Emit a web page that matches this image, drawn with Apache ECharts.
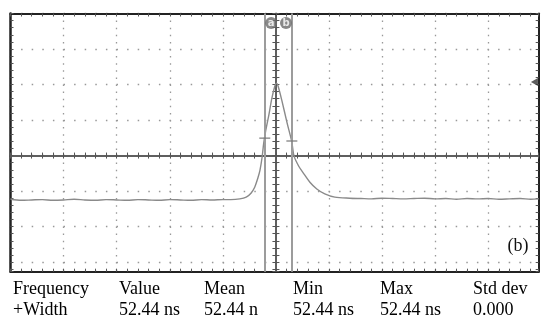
<!DOCTYPE html>
<html>
<head>
<meta charset="utf-8">
<script src="https://cdn.jsdelivr.net/npm/echarts@6/dist/echarts.min.js"></script>
<style>
html,body{margin:0;padding:0;background:#fff;}
#chart{width:542px;height:318px;}
</style>
</head>
<body>
<div id="chart"></div>
<script>
// ---- Data (screen divisions; 0 = centre of the graticule) ----
const waveX = [-5.0,-4.8,-4.6,-4.4,-4.2,-4.0,-3.8,-3.6,-3.4,-3.2,-3.0,-2.8,-2.6,-2.4,-2.2,-2.0,-1.8,-1.6,-1.4,-1.2,-1.0,
  -0.85,-0.68,-0.56,-0.47,-0.40,-0.34,-0.30,-0.26,-0.23,-0.19,-0.13,-0.08,-0.02,
  0.01,0.04,0.11,0.21,0.30,0.34,0.43,0.53,0.64,0.77,0.92,1.11,1.39,
  1.6,1.8,2.0,2.2,2.4,2.6,2.8,3.0,3.2,3.4,3.6,3.8,4.0,4.2,4.4,4.6,4.8,4.95];
const waveY = [-1.23,-1.26,-1.25,-1.24,-1.26,-1.25,-1.23,-1.25,-1.26,-1.24,-1.25,-1.26,-1.24,-1.25,-1.26,-1.24,-1.25,-1.26,-1.24,-1.25,-1.24,
  -1.24,-1.22,-1.17,-1.06,-0.89,-0.63,-0.41,-0.04,0.35,0.72,1.17,1.59,1.96,
  2.04,1.96,1.56,0.92,0.38,-0.01,-0.30,-0.52,-0.75,-0.94,-1.08,-1.17,-1.20,
  -1.21,-1.22,-1.20,-1.21,-1.22,-1.21,-1.20,-1.22,-1.21,-1.23,-1.21,-1.22,-1.21,-1.23,-1.22,-1.21,-1.23,-1.22];
const cursorX = [-0.21, 0.30];
const cursorNames = ['a', 'b'];
const cursorLabelX = [-0.09, 0.19];
const cursorLabelY = 3.73;
const cursorMarkY = [0.49, 0.41];
const triggerLevel = 2.07;
const panelLabel = '(b)';
const tableHeaders = ['Frequency', 'Value', 'Mean', 'Min', 'Max', 'Std dev'];
const tableValues = ['+Width', '52.44 ns', '52.44 n', '52.44 ns', '52.44 ns', '0.000'];

// ---- Layout ----
const X_MIN = -5, X_MAX = 4.95;
const DIV_UP = 4, DIV_DOWN = 3.27;
const colX = [13, 119, 204, 293, 380, 473];
const FONT = '18px "Liberation Serif", "Times New Roman", serif';

const chart = echarts.init(document.getElementById('chart'), null, {renderer: 'canvas'});

const borderLine = {color: '#222', width: 2};
const tickStyle = {color: '#555', width: 1};
const centreLine = {color: '#555', width: 1.5};

function xAx(extra) {
  return Object.assign({
    type: 'value', min: X_MIN, max: X_MAX, interval: 1,
    axisLabel: {show: false},
    splitLine: {show: false},
    axisTick: {show: true, inside: true, length: 3, lineStyle: tickStyle},
    minorTick: {show: true, splitNumber: 5, length: 3, lineStyle: tickStyle}
  }, extra);
}
function yAx(extra) {
  return Object.assign({
    type: 'value', inverse: true, min: 0, max: DIV_UP + DIV_DOWN, interval: 1,
    axisLabel: {show: false},
    splitLine: {show: false},
    axisTick: {show: true, inside: true, length: 3, lineStyle: tickStyle},
    minorTick: {show: true, splitNumber: 5, length: 3, lineStyle: tickStyle}
  }, extra);
}

const waveData = waveX.map((x, i) => [x, waveY[i]]);

const graphics = [{
  type: 'text', x: 518, y: 246,
  style: {text: panelLabel, font: FONT, fill: '#111', align: 'center', verticalAlign: 'middle'}, z: 10
}];
tableHeaders.forEach((t, i) => graphics.push({
  type: 'text', x: colX[i], y: 289,
  style: {text: t, font: FONT, fill: '#000', align: 'left', verticalAlign: 'middle'}, z: 10
}));
tableValues.forEach((t, i) => graphics.push({
  type: 'text', x: colX[i], y: 310,
  style: {text: t, font: FONT, fill: '#000', align: 'left', verticalAlign: 'middle'}, z: 10
}));

chart.setOption({
  animation: false,
  backgroundColor: '#fff',
  grid: {left: 10.5, right: 3.3, top: 13.5, bottom: 46.3, containLabel: false},
  xAxis: [
    xAx({position: 'bottom', axisLine: {onZero: false, lineStyle: borderLine},
      splitLine: {show: true, lineStyle: {color: '#999', width: 1.3, type: [1.5, 5.6]}}}),
    xAx({position: 'top', axisLine: {onZero: false, lineStyle: borderLine}}),
    xAx({position: 'bottom', axisLine: {onZero: true, onZeroAxisIndex: 4, lineStyle: centreLine},
      axisTick: {show: true, inside: true, length: 3, lineStyle: tickStyle},
      minorTick: {show: true, splitNumber: 5, length: 3, lineStyle: tickStyle}}),
    xAx({position: 'bottom', axisLine: {onZero: true, onZeroAxisIndex: 4, lineStyle: centreLine},
      axisTick: {show: true, inside: false, length: 3, lineStyle: tickStyle},
      minorTick: {show: true, splitNumber: 5, length: 3, lineStyle: tickStyle}})
  ],
  yAxis: [
    yAx({position: 'left', axisLine: {onZero: false, lineStyle: {color: '#222', width: 2.5}},
      splitLine: {show: true, lineStyle: {color: '#999', width: 1.3, type: [1.5, 9.1]}}}),
    yAx({position: 'right', axisLine: {onZero: false, lineStyle: borderLine}}),
    yAx({position: 'left', axisLine: {onZero: true, onZeroAxisIndex: 0, lineStyle: centreLine},
      axisTick: {show: true, inside: true, length: 3.5, lineStyle: tickStyle},
      minorTick: {show: true, splitNumber: 5, length: 3.5, lineStyle: tickStyle}}),
    yAx({position: 'left', axisLine: {onZero: true, onZeroAxisIndex: 1, lineStyle: centreLine},
      axisTick: {show: true, inside: false, length: 3.5, lineStyle: tickStyle},
      minorTick: {show: true, splitNumber: 5, length: 3.5, lineStyle: tickStyle}}),
    {type: 'value', min: -DIV_DOWN, max: DIV_UP, show: false, axisLine: {onZero: false}}
  ],
  series: [
    {
      type: 'line', xAxisIndex: 0, yAxisIndex: 4, data: waveData,
      showSymbol: false, symbol: 'none', smooth: 0.3,
      lineStyle: {color: '#8a8a8a', width: 1.4}, z: 3,
      markLine: {
        silent: true, symbol: 'none', animation: false,
        label: {show: false},
        lineStyle: {color: '#9c9c9c', width: 2, type: 'solid'},
        data: cursorX.map(x => ({xAxis: x}))
      }
    },
    {
      type: 'scatter', xAxisIndex: 0, yAxisIndex: 4, z: 5,
      symbol: 'rect', symbolSize: [11, 1.5],
      itemStyle: {color: '#777'},
      data: cursorX.map((x, i) => [x, cursorMarkY[i]])
    },
    {
      type: 'scatter', xAxisIndex: 0, yAxisIndex: 4, z: 6,
      symbol: 'circle', symbolSize: 12,
      itemStyle: {color: '#6a6a6a'},
      label: {show: true, position: 'inside', color: '#fff', fontSize: 10, fontWeight: 'bold',
        fontFamily: 'DejaVu Sans', formatter: p => p.data[2]},
      data: cursorLabelX.map((x, i) => [x, cursorLabelY, cursorNames[i]])
    },
    {
      type: 'scatter', xAxisIndex: 0, yAxisIndex: 4, z: 6,
      symbol: 'triangle', symbolSize: [8, 7], symbolRotate: 90,
      itemStyle: {color: '#333'},
      data: [[4.87, triggerLevel]]
    }
  ],
  graphic: graphics
});
</script>
</body>
</html>
